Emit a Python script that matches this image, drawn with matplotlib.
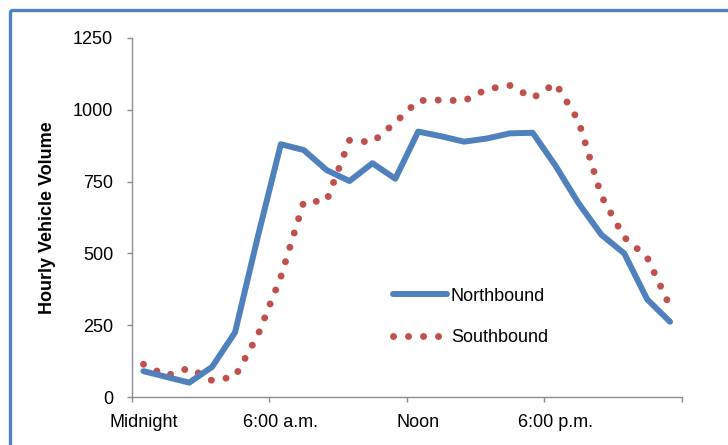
import matplotlib
matplotlib.use("Agg")
import matplotlib.pyplot as plt
from matplotlib.patches import Rectangle
import numpy as np

# ---- data ----
hours = list(range(24))
northbound = [90, 70, 50, 105, 225, 560, 880, 860, 790, 752, 814, 760,
              924, 908, 889, 900, 918, 920, 805, 675, 565, 500, 340, 262]
southbound = [114, 74, 101, 57, 71, 216, 418, 679, 683, 894, 887, 956,
              1032, 1034, 1031, 1072, 1085, 1041, 1092, 962, 700, 556, 486, 315]
tick_labels = ["Midnight", "6:00 a.m.", "Noon", "6:00 p.m."]
tick_label_hours = [0, 6, 12, 18]
y_ticks = [0, 250, 500, 750, 1000, 1250]

plt.rcParams['font.family'] = ['Liberation Sans', 'DejaVu Sans']

W, H = 728, 445
fig = plt.figure(figsize=(W / 100, H / 100), dpi=100)
fig.patch.set_facecolor('white')

# blue frame (cropped at right/bottom)
frame = Rectangle((9.5 / W, 1 - 10 / H), (760 - 9.5) / W, -(480) / H,
                  transform=fig.transFigure, fill=False,
                  edgecolor='#4F81BD', linewidth=2.4, clip_on=False)
fig.patches.append(frame)

left, right, top, bottom = 132, 681.5, 38, 397
ax = fig.add_axes([left / W, 1 - bottom / H, (right - left) / W, (bottom - top) / H])

x = np.array(hours) + 0.5
blue = '#4F81BD'
red = '#C0504D'
lw_b = 4.3
ax.plot(x, northbound, color=blue, lw=lw_b, solid_capstyle='round',
        solid_joinstyle='round', label='Northbound', zorder=3)
lw_r = 5.0
ax.plot(x, southbound, color=red, lw=lw_r, linestyle=(0, (0.01, 2.15)),
        dash_capstyle='round', label='Southbound', zorder=2)

ax.set_xlim(0, 24)
ax.set_ylim(0, 1250)

spine_c = '#8C8C8C'
for s in ['top', 'right']:
    ax.spines[s].set_visible(False)
for s in ['left', 'bottom']:
    ax.spines[s].set_color(spine_c)
    ax.spines[s].set_linewidth(1.0)

ax.set_yticks(y_ticks)
ax.set_yticklabels([str(v) for v in y_ticks])
ax.tick_params(axis='y', direction='out', length=3.6, width=1.0, color=spine_c,
               pad=10, labelsize=13, labelcolor='#000000')

ax.set_xticks([0, 6, 12, 18, 24])
ax.set_xticklabels([])
ax.tick_params(axis='x', which='major', direction='out', length=3.6, width=1.0,
               color=spine_c)
ax.set_xticks([h + 0.5 for h in tick_label_hours], minor=True)
ax.set_xticklabels(tick_labels, minor=True)
ax.tick_params(axis='x', which='minor', length=0, pad=12, labelsize=13,
               labelcolor='#000000')

ax.set_ylabel('Hourly Vehicle Volume', fontsize=13, fontweight='bold')
ax.yaxis.set_label_coords((55.7 - left) / (right - left), 0.5)

leg = ax.legend(loc='center left', bbox_to_anchor=(393 / W, 1 - 317 / H),
                bbox_transform=fig.transFigure, frameon=False, fontsize=13,
                handlelength=3.0, handletextpad=0.2, labelspacing=1.35,
                borderpad=0, borderaxespad=0)

fig.savefig('out.png', dpi=100, facecolor='white')
